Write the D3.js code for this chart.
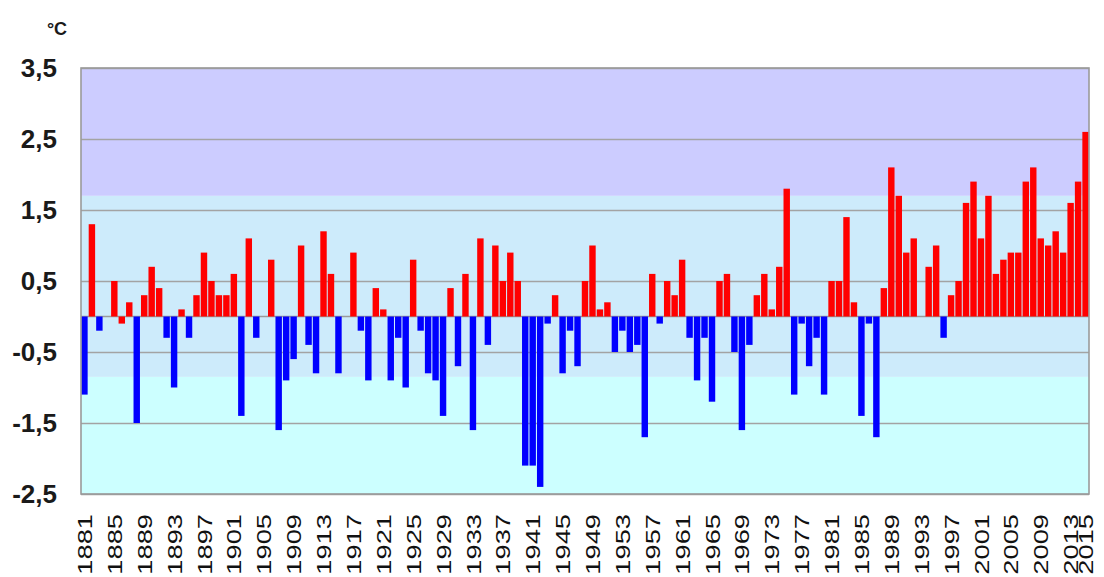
<!DOCTYPE html>
<html>
<head>
<meta charset="utf-8">
<script src="https://cdn.jsdelivr.net/npm/d3@7"></script>
<style>
    body { margin: 0; background: #fff; }
    svg { font-family: "Liberation Sans", Arial, sans-serif; }
</style>
</head>
<body>
<svg width="1104" height="577"></svg>
<script>
// temperature anomaly per year, 1881..2015
const years = d3.range(1881, 2016);
const anomalies = [
    -1.1, 1.3, -0.2, 0, 0.5, -0.1, 0.2, -1.5, 0.3, 0.7,
    0.4, -0.3, -1.0, 0.1, -0.3, 0.3, 0.9, 0.5, 0.3, 0.3,
    0.6, -1.4, 1.1, -0.3, 0, 0.8, -1.6, -0.9, -0.6, 1.0,
    -0.4, -0.8, 1.2, 0.6, -0.8, 0, 0.9, -0.2, -0.9, 0.4,
    0.1, -0.9, -0.3, -1.0, 0.8, -0.2, -0.8, -0.9, -1.4, 0.4,
    -0.7, 0.6, -1.6, 1.1, -0.4, 1.0, 0.5, 0.9, 0.5, -2.1,
    -2.1, -2.4, -0.1, 0.3, -0.8, -0.2, -0.7, 0.5, 1.0, 0.1,
    0.2, -0.5, -0.2, -0.5, -0.4, -1.7, 0.6, -0.1, 0.5, 0.3,
    0.8, -0.3, -0.9, -0.3, -1.2, 0.5, 0.6, -0.5, -1.6, -0.4,
    0.3, 0.6, 0.1, 0.7, 1.8, -1.1, -0.1, -0.7, -0.3, -1.1,
    0.5, 0.5, 1.4, 0.2, -1.4, -0.1, -1.7, 0.4, 2.1, 1.7,
    0.9, 1.1, 0, 0.7, 1.0, -0.3, 0.3, 0.5, 1.6, 1.9,
    1.1, 1.7, 0.6, 0.8, 0.9, 0.9, 1.9, 2.1, 1.1, 1.0,
    1.2, 0.9, 1.6, 1.9, 2.6,
];
// bars drawn red although slightly below zero
const redNegYears = [1886];

const yTicks = [3.5, 2.5, 1.5, 0.5, -0.5, -1.5, -2.5];
const yearTicks = d3.range(1881, 2014, 4).concat([2015]);
// background zones (lower, upper)
const zones = [
    { from: -2.5, to: -0.85, color: "#ccffff" },
    { from: -0.85, to: 1.7, color: "#cdebfb" },
    { from: 1.7, to: 3.5, color: "#ccccff" },
];

const data = years.map((year, i) => ({ year: year, value: anomalies[i] }));

const plotLeft = 81, plotRight = 1089, plotTop = 68, plotBottom = 494;

const xScale = d3.scaleBand().domain(years).range([plotLeft, plotRight]).paddingInner(0.14).paddingOuter(0.03);
const yScale = d3.scaleLinear().domain([-2.5, 3.5]).range([plotBottom, plotTop]);

const svg = d3.select("svg");

svg.selectAll(".zone")
    .data(zones)
    .enter()
    .append("rect")
    .attr("x", plotLeft)
    .attr("width", plotRight - plotLeft)
    .attr("y", (z) => yScale(z.to))
    .attr("height", (z) => yScale(z.from) - yScale(z.to))
    .attr("fill", (z) => z.color);

// grid + y labels
const yAxis = svg.append("g")
    .attr("transform", `translate(${plotLeft},0)`)
    .call(d3.axisLeft(yScale).tickValues(yTicks).tickSize(-(plotRight - plotLeft)).tickPadding(24)
        .tickFormat((d) => d3.format(".1f")(d).replace(".", ",").replace("−", "-")));
yAxis.select(".domain").remove();
yAxis.selectAll("line").attr("stroke", "#a3a3a3").attr("stroke-width", 1.6);
yAxis.selectAll("text")
    .attr("fill", "#1a1a1a")
    .style("font-size", "26px")
    .style("font-weight", "bold");

// zero line
svg.append("line")
    .attr("x1", plotLeft).attr("x2", plotRight)
    .attr("y1", yScale(0)).attr("y2", yScale(0))
    .attr("stroke", "#9a9a9a").attr("stroke-width", 1.6);

svg.selectAll(".bar")
    .data(data)
    .enter()
    .append("rect")
    .classed("bar", true)
    .attr("x", (d) => xScale(d.year))
    .attr("width", xScale.bandwidth())
    .attr("y", (d) => yScale(Math.max(0, d.value)))
    .attr("height", (d) => Math.abs(yScale(d.value) - yScale(0)))
    .attr("fill", (d) => (d.value > 0 || redNegYears.includes(d.year) ? "#ff0000" : "#0000ff"));

// frame
svg.append("rect")
    .attr("x", plotLeft).attr("y", plotTop)
    .attr("width", plotRight - plotLeft).attr("height", plotBottom - plotTop)
    .attr("fill", "none")
    .attr("stroke", "#9a9a9a")
    .attr("stroke-width", 1.6);

// x labels
const xAxis = svg.append("g")
    .attr("transform", `translate(0,${plotBottom})`)
    .call(d3.axisBottom(xScale).tickValues(yearTicks).tickSize(0));
xAxis.select(".domain").remove();
xAxis.selectAll("text")
    .attr("x", 0)
    .attr("y", 0)
    .attr("dy", "0.36em")
    .attr("text-anchor", "end")
    .attr("transform", "translate(0,20) rotate(-90) scale(1.3,1)")
    .attr("fill", "#111")
    .style("font-size", "21px");

svg.append("text")
    .attr("x", 57)
    .attr("y", 35)
    .attr("text-anchor", "middle")
    .attr("fill", "#1a1a1a")
    .style("font-size", "18px")
    .style("font-weight", "bold")
    .text("°C");
</script>
</body>
</html>
